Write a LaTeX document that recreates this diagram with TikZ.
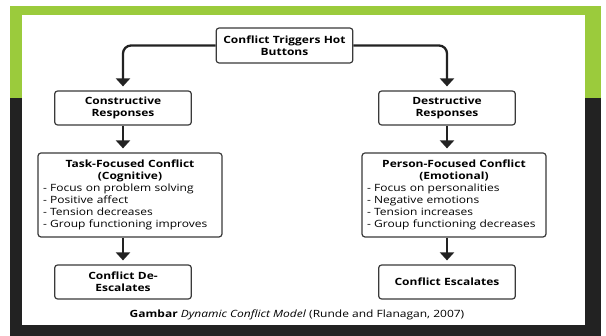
\documentclass[tikz,border=0pt]{standalone}
\usepackage{fontspec}
\setmainfont{Open Sans}[FakeStretch=1.2]
\usetikzlibrary{arrows.meta}
\definecolor{slideGreen}{HTML}{9BCB3C}
\definecolor{slideDark}{HTML}{222222}
\definecolor{boxLine}{HTML}{3A3A3A}
\tikzstyle{arrow} = [line width=2.3pt, draw=slideDark, -{Triangle[width=14pt,length=8pt]}, shorten >=4pt]
\tikzstyle{roundRec} = [rectangle, rounded corners=3pt, minimum width=135pt, minimum height=34pt, text width=130pt, align=center, draw=boxLine, line width=1.2pt, font=\bfseries\fontsize{10pt}{12pt}\selectfont]
\tikzstyle{listRec} = [roundRec, minimum width=184pt, minimum height=84pt, text width=174pt]
\newcommand{\lstline}[1]{\makebox[174pt][l]{\mdseries #1}}

\begin{document}
\begin{tikzpicture}[x=1pt, y=-1pt, node distance=87pt]
% slide background
\fill[white] (0,0) rectangle (606,336);
\fill[slideGreen] (10,6) rectangle (601,98);
\fill[slideDark] (10,98) rectangle (601,336);
\fill[white] (22,15) rectangle (585,325);
\useasboundingbox (0,0) rectangle (606,336);

\node (hot) [roundRec, minimum height=35pt] at (284.5,45.5) {Conflict Triggers Hot\\Buttons};
\node (constr) [roundRec] at (123,108) {Constructive\\Responses};
\node (destr) [roundRec] at (447,108) {Destructive\\Responses};
\node (task) [listRec, below of=constr, xshift=7pt] {Task-Focused Conflict\\(Cognitive)\\
	\lstline{- Focus on problem solving}\\
	\lstline{- Positive affect}\\
	\lstline{- Tension decreases}\\
	\lstline{- Group functioning improves}};
\node (person) [listRec, below of=destr, xshift=7pt] {Person-Focused Conflict\\(Emotional)\\
	\lstline{- Focus on personalities}\\
	\lstline{- Negative emotions}\\
	\lstline{- Tension increases}\\
	\lstline{- Group functioning decreases}};
\node (deesc) [roundRec, below of=task, xshift=-7pt] {Conflict De-\\Escalates};
\node (esc) [roundRec, below of=person, xshift=-7pt] {Conflict Escalates};
\node (caption) at (297,315) {\fontsize{10pt}{12pt}\selectfont\textbf{Gambar} \textit{Dynamic Conflict Model} (Runde and Flanagan, 2007)};

\draw [arrow, rounded corners=8pt] (hot.west) -| (constr.north);
\draw [arrow, rounded corners=8pt] (hot.east) -| (destr.north);
\draw [arrow] (constr.south) -- (constr.south |- task.north);
\draw [arrow] (destr.south) -- (destr.south |- person.north);
\draw [arrow] (deesc.north |- task.south) -- (deesc.north);
\draw [arrow] (esc.north |- person.south) -- (esc.north);
\end{tikzpicture}
\end{document}
